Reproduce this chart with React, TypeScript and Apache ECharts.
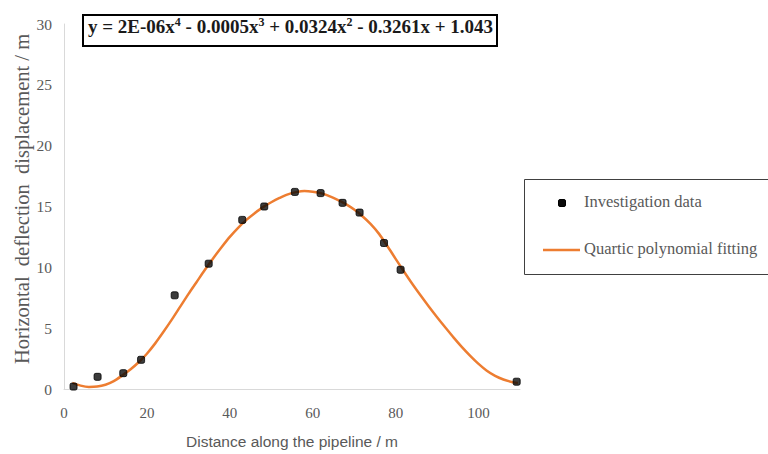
import React, { useEffect, useRef } from "react";
import * as echarts from "echarts";

const investigationX = [2.3, 8.1, 14.3, 18.6, 26.7, 34.9, 43.0, 48.3, 55.7, 61.9, 67.2, 71.3, 77.2, 81.2, 109.2];
const investigationY = [0.2, 1.0, 1.3, 2.4, 7.7, 10.3, 13.9, 15.0, 16.2, 16.1, 15.3, 14.5, 12.0, 9.8, 0.6];

const fitX = [2, 4, 6, 8, 10, 12, 14, 16, 18, 20, 22, 24, 26, 28, 30, 32, 34, 36, 38, 40, 42, 44, 46, 48, 50, 52, 54, 56, 58, 60, 62, 64, 66, 68, 70, 72, 74, 76, 78, 80, 82, 84, 86, 88, 90, 92, 94, 96, 98, 100, 102, 104, 106, 108, 109.5];
const fitY = [0.5, 0.28, 0.17, 0.2, 0.35, 0.65, 1.1, 1.6, 2.2, 2.9, 3.75, 4.7, 5.7, 6.75, 7.8, 8.8, 9.8, 10.75, 11.65, 12.5, 13.25, 13.9, 14.45, 14.95, 15.35, 15.7, 16.0, 16.18, 16.27, 16.22, 16.1, 15.85, 15.55, 15.2, 14.75, 14.2, 13.55, 12.75, 11.75, 10.7, 9.66, 8.65, 7.7, 6.78, 5.9, 5.05, 4.22, 3.44, 2.72, 2.06, 1.5, 1.08, 0.78, 0.58, 0.5];

const xTicks = [0, 20, 40, 60, 80, 100];
const yTicks = [0, 5, 10, 15, 20, 25, 30];

const seriesNames = ["Investigation data", "Quartic polynomial fitting"];
const xTitle = "Distance along the pipeline / m";
const yTitle = "Horizontal  deflection  displacement / m";

export default function App() {
  const ref = useRef<HTMLDivElement>(null);
  useEffect(() => {
    if (!ref.current) return;
    const chart = echarts.init(ref.current, undefined, { renderer: "svg" });
    const gray = "#595959";
    const serif = "'Liberation Serif', 'Times New Roman', serif";
    chart.setOption({
      animation: false,
      backgroundColor: "#ffffff",
      grid: { left: 64, top: 24, width: 456, height: 366, containLabel: false },
      xAxis: {
        type: "value",
        min: 0,
        max: 110,
        interval: 20,
        name: xTitle,
        nameLocation: "middle",
        nameGap: 44,
        nameTextStyle: { color: gray, fontSize: 15.5, fontFamily: "'Liberation Sans', Arial, sans-serif" },
        axisLine: { show: true, lineStyle: { color: "#d9d9d9", width: 1 } },
        axisTick: { show: false },
        splitLine: { show: false },
        axisLabel: {
          color: gray,
          fontSize: 15,
          fontFamily: serif,
          margin: 16,
          showMaxLabel: false,
          formatter: (v: number) => (xTicks.includes(v) ? String(v) : ""),
        },
      },
      yAxis: {
        type: "value",
        min: 0,
        max: 30,
        interval: 5,
        axisLine: { show: true, lineStyle: { color: "#d9d9d9", width: 1 } },
        axisTick: { show: false },
        splitLine: { show: false },
        axisLabel: {
          color: gray,
          fontSize: 15.5,
          fontFamily: serif,
          margin: 12,
          formatter: (v: number) => (yTicks.includes(v) ? String(v) : ""),
        },
      },
      series: [
        {
          name: seriesNames[1],
          type: "line",
          smooth: 0.3,
          showSymbol: false,
          symbol: "none",
          data: fitX.map((x, i) => [x, fitY[i]]),
          lineStyle: { color: "#ED7D31", width: 2.5 },
          z: 2,
        },
        {
          name: seriesNames[0],
          type: "scatter",
          symbol: "roundRect",
          symbolSize: 7,
          data: investigationX.map((x, i) => [x, investigationY[i]]),
          itemStyle: { color: "#0b0b0b", borderColor: "#000", borderWidth: 1 },
          z: 3,
        },
      ],
      graphic: [
        {
          type: "text",
          x: 22,
          y: 199,
          rotation: Math.PI / 2,
          z: 11,
          style: {
            text: yTitle,
            fill: gray,
            fontSize: 20.5,
            fontFamily: serif,
            align: "center",
            verticalAlign: "middle",
          },
        },
        {
          type: "rect",
          left: 82,
          top: 14,
          shape: { width: 414, height: 31 },
          style: { fill: "#fff", stroke: "#000", lineWidth: 2 },
          z: 10,
        },
        {
          type: "text",
          left: 88,
          top: 16,
          z: 11,
          style: {
            text: "{t|y = 2E-06x}{s|4}{t| - 0.0005x}{s|3}{t| + 0.0324x}{s|2}{t| - 0.3261x + 1.043}",
            fill: "#000",
            rich: {
              t: { fontSize: 19, fontWeight: "bold", fontFamily: serif, fill: "#1a1a1a", verticalAlign: "bottom" },
              s: { fontSize: 12, fontWeight: "bold", fontFamily: serif, fill: "#1a1a1a", padding: [0, 0, 8, 0], verticalAlign: "bottom" },
            },
          },
        },
        {
          type: "rect",
          left: 524,
          top: 179,
          shape: { width: 250, height: 95 },
          style: { fill: "#fff", stroke: "#404040", lineWidth: 1 },
          z: 10,
        },
        {
          type: "rect",
          left: 558,
          top: 199,
          shape: { width: 7, height: 7, r: 1.5 },
          style: { fill: "#0b0b0b", stroke: "#000", lineWidth: 1 },
          z: 11,
        },
        {
          type: "text",
          left: 584,
          top: 193,
          z: 11,
          style: { text: seriesNames[0], fill: gray, fontSize: 16.5, fontFamily: serif },
        },
        {
          type: "line",
          shape: { x1: 543, y1: 250, x2: 580, y2: 250 },
          style: { stroke: "#ED7D31", lineWidth: 2.5 },
          z: 11,
        },
        {
          type: "text",
          left: 584,
          top: 240,
          z: 11,
          style: { text: seriesNames[1], fill: gray, fontSize: 16.5, fontFamily: serif },
        },
      ],
    });
    return () => chart.dispose();
  }, []);
  return <div ref={ref} style={{ width: 768, height: 454, position: "absolute", left: 0, top: 0 }} />;
}
